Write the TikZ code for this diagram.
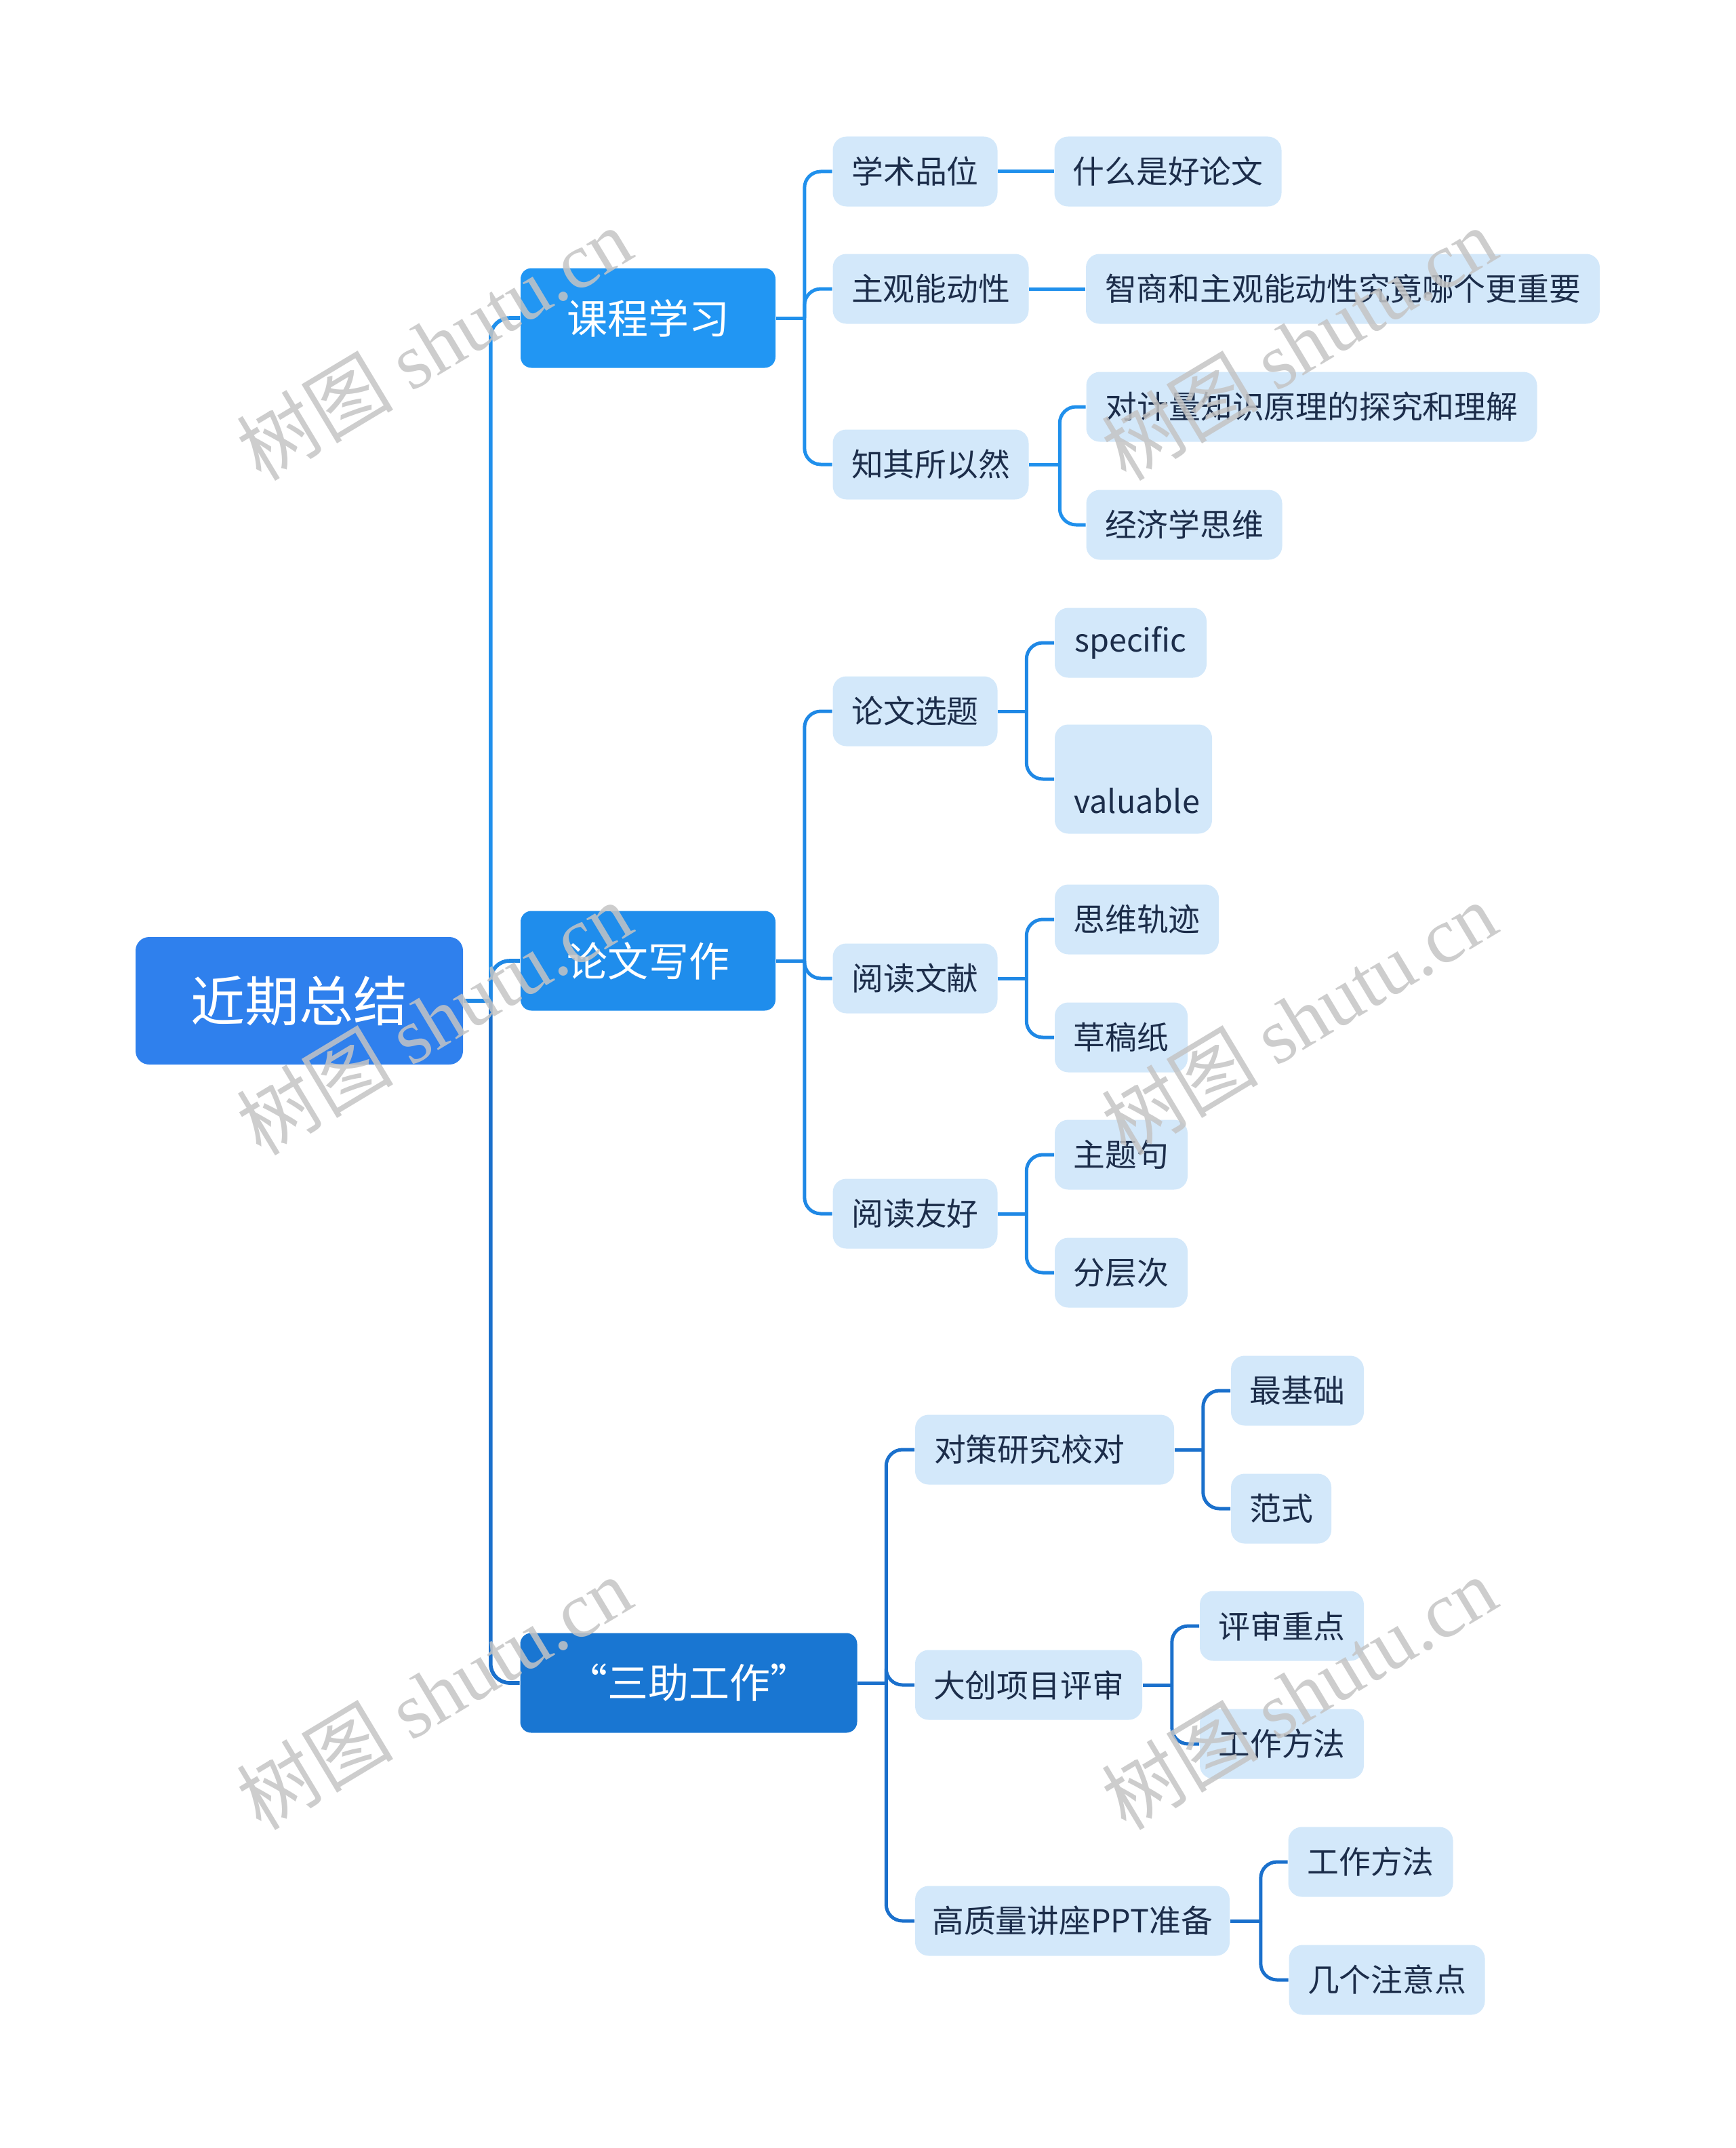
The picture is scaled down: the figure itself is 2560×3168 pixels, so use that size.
\documentclass[tikz,border=0pt]{standalone}
\usepackage{fontspec}
\newfontfamily\cjk{Noto Sans CJK SC}
\newfontfamily\wmfont{Liberation Serif}
\definecolor{rootc}{HTML}{2F80ED}
\definecolor{kone}{HTML}{2196F3}
\definecolor{ktwo}{HTML}{1F8DEC}
\definecolor{kthree}{HTML}{1976D2}
\definecolor{subfill}{HTML}{D3E8FA}
\definecolor{navy}{HTML}{1C2D4A}
\definecolor{lineA}{HTML}{2090EC}
\definecolor{lineB}{HTML}{1F88E5}
\definecolor{lineC}{HTML}{1A70CC}
\definecolor{wmgray}{HTML}{C4C4C4}
\tikzset{
  rootbox/.style={fill=rootc, rounded corners=5pt, minimum width=120.75pt, minimum height=47pt,
    text=white, inner sep=2pt, font=\cjk\fontsize{20}{24}\selectfont},
  lonebox/.style={rounded corners=4pt, minimum height=36.75pt, text=white, inner sep=2pt,
    font=\cjk\fontsize{15}{18}\selectfont},
  ltwobox/.style={fill=subfill, rounded corners=5pt, minimum height=25.75pt, text=navy, inner sep=2pt,
    font=\cjk\fontsize{11.7}{16.5}\selectfont},
  conn/.style={line width=1.25pt, rounded corners=6pt},
  trunkline/.style={line width=1.4pt, rounded corners=7pt},
  wm/.style={text=wmgray, text opacity=0.85, rotate=31, inner sep=0pt}
}
\begin{document}
\begin{tikzpicture}[x=0.25pt,y=-0.25pt]
\useasboundingbox (0,0) rectangle (2560,3168);
% root
\node[rootbox] (root) at (441.5,1476) {近期总结};
% level 1
\node[lonebox, fill=kone, minimum width=94pt] (k1) at (956,469) {课程学习};
\node[lonebox, fill=ktwo, minimum width=94pt] (k2) at (956,1417) {论文写作};
\node[lonebox, fill=kthree, minimum width=124.25pt] (k3) at (1016,2482) {“三助工作”};
% level 2 under k1
\node[ltwobox, minimum width=60.75pt] (a1) at (1350,253) {学术品位};
\node[ltwobox, minimum width=72.25pt] (a2) at (1373,426) {主观能动性};
\node[ltwobox, minimum width=72.25pt] (a3) at (1373,685) {知其所以然};
\node[ltwobox, minimum width=83.75pt] (a1c) at (1723,253) {什么是好论文};
\node[ltwobox, minimum width=189.5pt] (a2c) at (1981,426) {智商和主观能动性究竟哪个更重要};
\node[ltwobox, minimum width=166.25pt] (a3c1) at (1935,600) {对计量知识原理的探究和理解};
\node[ltwobox, minimum width=72.25pt] (a3c2) at (1747,774) {经济学思维};
% level 2 under k2
\node[ltwobox, minimum width=60.75pt] (b1) at (1350,1049) {论文选题};
\node[ltwobox, minimum width=60.75pt] (b2) at (1350,1443) {阅读文献};
\node[ltwobox, minimum width=60.75pt] (b3) at (1350,1790) {阅读友好};
\node[ltwobox, minimum width=56pt] (b1c1) at (1668,948) {specific};
\node[ltwobox, inner xsep=7pt, text width=44pt, align=left, minimum height=40.25pt] (b1c2) at (1672,1149) {\mbox{}\\[9pt]valuable};
\node[ltwobox, minimum width=60.5pt] (b2c1) at (1677,1356) {思维轨迹};
\node[ltwobox, minimum width=49pt] (b2c2) at (1654,1530) {草稿纸};
\node[ltwobox, minimum width=49pt] (b3c1) at (1654,1703) {主题句};
\node[ltwobox, minimum width=49pt] (b3c2) at (1654,1877) {分层次};
% level 2 under k3
\node[ltwobox, inner xsep=7pt, text width=81.5pt, align=left] (c1) at (1541,2138) {对策研究校对};
\node[ltwobox, minimum width=83.75pt] (c2) at (1517.5,2485) {大创项目评审};
\node[ltwobox, minimum width=116pt] (c3) at (1582,2833) {高质量讲座PPT准备};
\node[ltwobox, minimum width=49pt] (c1c1) at (1914,2051) {最基础};
\node[ltwobox, minimum width=37pt] (c1c2) at (1890,2225) {范式};
\node[ltwobox, minimum width=60.5pt] (c2c1) at (1891,2398) {评审重点};
\node[ltwobox, minimum width=60.5pt] (c2c2) at (1891,2572) {工作方法};
\node[ltwobox, minimum width=60.75pt] (c3c1) at (2022,2746) {工作方法};
\node[ltwobox, minimum width=72.25pt] (c3c2) at (2046,2920) {几个注意点};
% connectors: root to level 1
\draw[trunkline, color=lineB] (root.east) -- ++(40,0) coordinate (jr);
\draw[trunkline, color=lineA] (jr) |- (k1.west);
\draw[trunkline, color=lineB] (jr) |- (k2.west);
\draw[trunkline, color=lineC] (jr) |- (k3.west);
% k1 branch
\draw[conn, color=lineA] (k1.east) -- ++(42,0) coordinate (j1);
\draw[conn, color=lineA] (j1) |- (a1.west);
\draw[conn, color=lineA] (j1) |- (a2.west);
\draw[conn, color=lineA] (j1) |- (a3.west);
\draw[conn, color=lineA] (a1.east) -- (a1c.west);
\draw[conn, color=lineA] (a2.east) -- (a2c.west);
\draw[conn, color=lineA] (a3.east) -- ++(45,0) coordinate (ja3);
\draw[conn, color=lineA] (ja3) |- (a3c1.west);
\draw[conn, color=lineA] (ja3) |- (a3c2.west);
% k2 branch
\draw[conn, color=lineB] (k2.east) -- ++(42,0) coordinate (j2);
\draw[conn, color=lineB] (j2) |- (b1.west);
\draw[conn, color=lineB] (j2) |- (b2.west);
\draw[conn, color=lineB] (j2) |- (b3.west);
\draw[conn, color=lineB] (b1.east) -- ++(42,0) coordinate (jb1);
\draw[conn, color=lineB] (jb1) |- (b1c1.west);
\draw[conn, color=lineB] (jb1) |- (b1c2.west);
\draw[conn, color=lineB] (b2.east) -- ++(42,0) coordinate (jb2);
\draw[conn, color=lineB] (jb2) |- (b2c1.west);
\draw[conn, color=lineB] (jb2) |- (b2c2.west);
\draw[conn, color=lineB] (b3.east) -- ++(42,0) coordinate (jb3);
\draw[conn, color=lineB] (jb3) |- (b3c1.west);
\draw[conn, color=lineB] (jb3) |- (b3c2.west);
% k3 branch
\draw[conn, color=lineC] (k3.east) -- ++(42,0) coordinate (j3);
\draw[conn, color=lineC] (j3) |- (c1.west);
\draw[conn, color=lineC] (j3) |- (c2.west);
\draw[conn, color=lineC] (j3) |- (c3.west);
\draw[conn, color=lineC] (c1.east) -- ++(42,0) coordinate (jc1);
\draw[conn, color=lineC] (jc1) |- (c1c1.west);
\draw[conn, color=lineC] (jc1) |- (c1c2.west);
\draw[conn, color=lineC] (c2.east) -- ++(43,0) coordinate (jc2);
\draw[conn, color=lineC] (jc2) |- (c2c1.west);
\draw[conn, color=lineC] (jc2) |- (c2c2.west);
\draw[conn, color=lineC] (c3.east) -- ++(45,0) coordinate (jc3);
\draw[conn, color=lineC] (jc3) |- (c3c1.west);
\draw[conn, color=lineC] (jc3) |- (c3c2.west);
% watermarks
\foreach \wx/\wy [count=\i] in {640/507, 1916/507, 640/1502, 1916/1502, 640/2497, 1916/2497}
  \node[wm] (wm\i) at (\wx,\wy) {\cjk\fontsize{29}{33}\selectfont 树图 \wmfont shutu.cn};
\end{tikzpicture}
\end{document}
